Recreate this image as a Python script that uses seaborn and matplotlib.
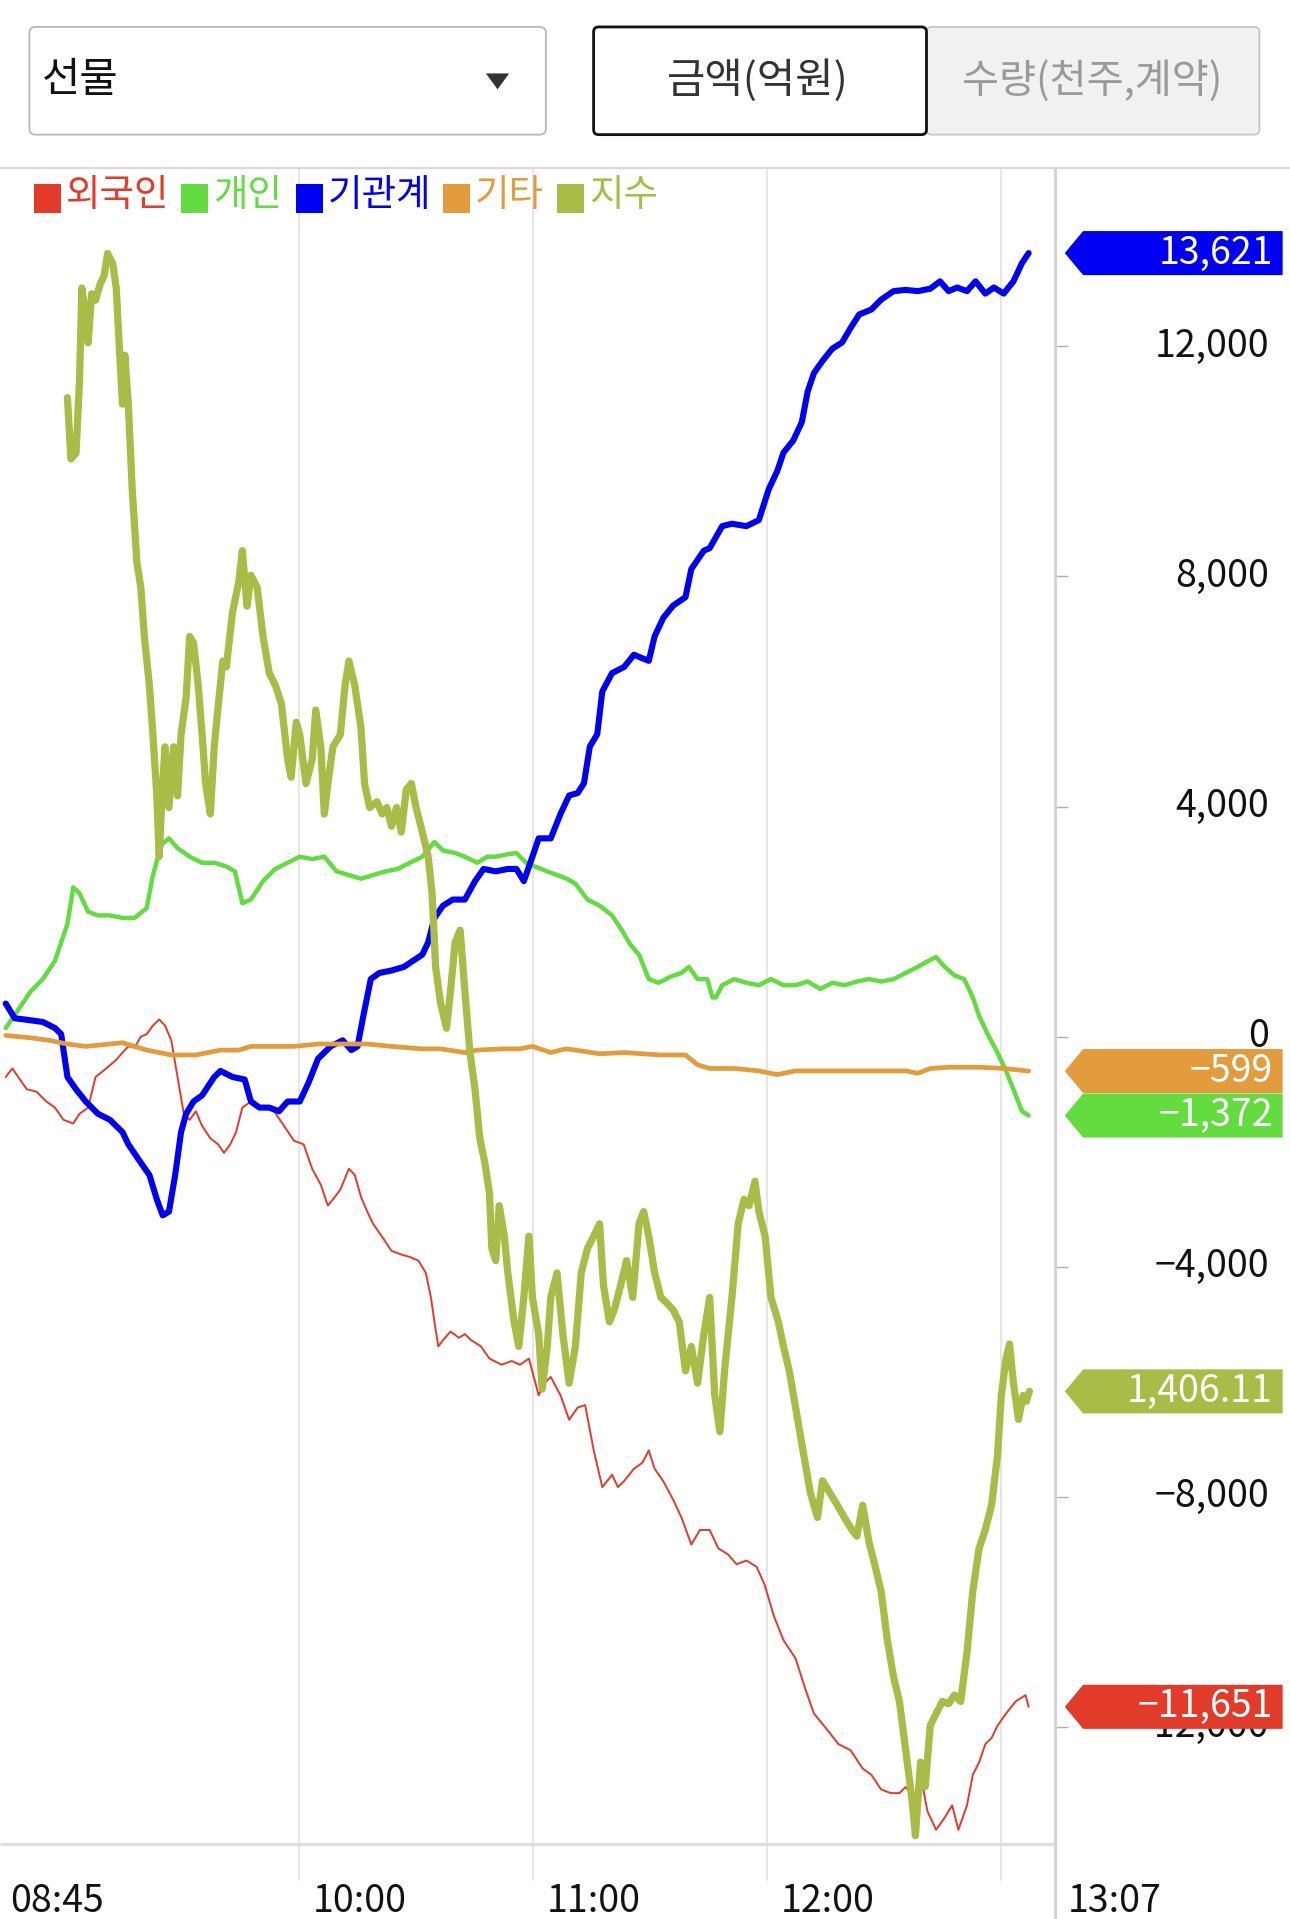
import matplotlib
matplotlib.use("Agg")
import matplotlib.pyplot as plt
import matplotlib.transforms as mtransforms
from matplotlib.patches import Polygon, Rectangle, FancyBboxPatch
import numpy as np
import pandas as pd
import seaborn as sns

# ---------------- data (minutes after 08:45, value) ----------------
foreign_t = [0, 1.7, 3.2, 5.4, 7.9, 10.4, 12.6, 14.8, 17.3, 18.9, 21.1, 23.0, 24.2, 26.1, 28.3, 29.9,
             31.4, 33.0, 34.6, 36.1, 37.7, 39.3, 40.8, 42.4, 44.0, 45.6, 47.1, 48.7, 50.3, 52.4, 54.4,
             55.9, 57.5, 59.0, 60.6, 62.8, 65.9, 68.1, 71.3, 73.8, 76.3, 78.5, 80.7, 82.5, 83.8, 85.7,
             87.9, 89.4, 91.0, 92.6, 94.1, 96.3, 98.8, 101.3, 103.5, 105.7, 107.6, 108.9, 109.8, 110.8,
             112.0, 113.9, 116.1, 117.6, 119.2, 121.7, 123.9, 127.0, 129.6, 131.7, 134.0, 136.5, 138.0,
             139.6, 142.1, 144.3, 146.5, 148.4, 150.6, 152.8, 155.3, 156.8, 158.4, 160.9, 163.1, 164.7,
             166.2, 168.4, 170.9, 173.1, 175.6, 177.8, 180.3, 182.5, 185.0, 187.2, 189.7, 192.3, 194.4,
             196.7, 199.2, 202.3, 204.8, 207.0, 210.1, 213.3, 216.4, 219.5, 221.7, 224.2, 226.7, 228.9,
             230.5, 233.0, 234.3, 236.1, 238.3, 240.5, 242.4, 244.0, 246.2, 247.7, 249.3, 250.9, 252.5,
             254.0, 256.2, 258.7, 261.2, 262.0]
foreign_v = [-702, -553, -702, -915, -958, -1128, -1234, -1447, -1511, -1341, -1234, -702, -638, -532,
             -404, -277, -170, -192, 0, 43, 192, 298, 192, -64, -702, -1341, -1447, -1298, -1553, -1766,
             -1873, -2022, -1873, -1660, -1234, -1128, -1234, -1234, -1553, -1809, -1873, -2298, -2575,
             -2937, -2830, -2660, -2298, -2405, -2788, -3043, -3256, -3469, -3724, -3788, -3830, -3894,
             -4107, -4533, -4958, -5384, -5277, -5128, -5235, -5171, -5277, -5384, -5597, -5703, -5639,
             -5703, -5597, -6235, -6022, -5916, -6235, -6661, -6448, -6405, -7193, -7831, -7618, -7831,
             -7725, -7512, -7405, -7193, -7512, -7725, -8044, -8363, -8831, -8576, -8576, -8895, -9001,
             -9172, -9108, -9214, -9533, -10065, -10491, -10810, -11342, -11768, -12023, -12300, -12406,
             -12725, -12831, -13087, -13151, -13151, -13044, -13257, -12831, -13470, -13789, -13576,
             -13364, -13789, -13364, -12831, -12619, -12300, -12193, -11980, -11768, -11555, -11448,
             -11651]

retail_t = [0, 3.2, 6.4, 9.5, 12.6, 15.8, 17.3, 18.9, 21.1, 23.6, 26.7, 29.9, 33.0, 36.1, 37.7, 39.9,
            41.8, 44.0, 47.1, 50.3, 53.4, 56.5, 58.7, 60.6, 62.8, 65.9, 69.0, 72.2, 75.3, 78.5, 81.6,
            84.7, 87.9, 91.0, 94.1, 97.3, 100.4, 103.5, 106.7, 109.8, 112.0, 115.1, 117.6, 120.8, 123.3,
            125.5, 128.6, 130.8, 133.3, 135.5, 138.7, 141.2, 143.7, 145.9, 149.0, 152.1, 155.3, 157.8,
            160.0, 162.2, 164.7, 167.2, 170.3, 173.1, 175.0, 177.2, 179.7, 181.0, 181.9, 183.5, 186.6,
            189.7, 192.9, 196.0, 199.2, 202.3, 205.4, 208.6, 211.7, 214.8, 218.0, 221.1, 224.2, 227.4,
            230.5, 233.6, 235.8, 238.3, 240.5, 243.0, 245.5, 247.7, 249.3, 251.5, 254.0, 256.2, 258.7,
            260.3, 262.0]
retail_v = [149, 468, 787, 1000, 1319, 1958, 2596, 2490, 2171, 2107, 2107, 2064, 2064, 2234, 2809, 3341,
            3447, 3277, 3128, 3022, 3022, 2958, 2873, 2320, 2383, 2703, 2915, 3022, 3128, 3086, 3128,
            2873, 2809, 2745, 2809, 2873, 2915, 3022, 3128, 3384, 3235, 3192, 3128, 3022, 3128, 3128,
            3171, 3192, 3022, 2958, 2873, 2809, 2745, 2660, 2383, 2277, 2107, 1851, 1596, 1426, 1000,
            936, 1043, 1107, 1213, 1000, 1000, 681, 681, 894, 1000, 936, 894, 1000, 894, 894, 958, 830,
            936, 894, 958, 1000, 958, 1000, 1107, 1213, 1298, 1383, 1213, 1064, 1000, 681, 362, 43,
            -277, -596, -1021, -1298, -1372]

inst_t = [0, 2.3, 4.8, 9.5, 12.6, 14.2, 15.8, 18.0, 20.5, 23.6, 26.7, 29.9, 31.4, 34.6, 36.8, 38.7,
          40.2, 41.8, 43.4, 44.9, 46.2, 48.1, 50.3, 53.4, 55.0, 58.1, 61.2, 62.8, 65.0, 67.5, 70.0,
          72.2, 75.3, 77.5, 80.0, 83.2, 86.3, 88.5, 90.1, 91.6, 93.5, 95.7, 98.8, 102.0, 106.7, 108.2,
          109.8, 112.0, 114.5, 117.6, 120.2, 122.4, 125.5, 128.6, 130.8, 132.7, 134.9, 136.5, 139.6,
          142.1, 144.3, 146.5, 148.1, 149.6, 151.5, 152.8, 155.3, 158.4, 160.9, 163.1, 164.7, 166.2,
          168.4, 170.9, 174.1, 175.6, 178.8, 180.3, 183.5, 186.0, 189.7, 192.9, 195.4, 197.6, 199.2,
          201.7, 203.9, 205.4, 207.0, 209.2, 211.7, 214.2, 216.4, 218.6, 221.7, 224.2, 227.4, 230.5,
          233.6, 236.8, 239.3, 241.5, 243.7, 246.2, 248.4, 250.9, 253.1, 255.6, 258.1, 260.3, 262.0]
inst_v = [575, 319, 298, 255, 149, 43, -702, -915, -1128, -1340, -1447, -1660, -1872, -2192, -2405,
          -2830, -3107, -3043, -2405, -1660, -1341, -1128, -1021, -702, -596, -702, -745, -1128, -1234,
          -1234, -1298, -1128, -1128, -809, -383, -170, -64, -234, -170, 362, 1000, 1107, 1149, 1213,
          1426, 1639, 2064, 2277, 2383, 2383, 2703, 2915, 2873, 2915, 2915, 2703, 3128, 3447, 3447, 3873,
          4192, 4235, 4405, 5043, 5256, 6001, 6320, 6427, 6639, 6576, 6533, 6959, 7278, 7491, 7640, 8129,
          8448, 8491, 8874, 8916, 8874, 8980, 9512, 9831, 10151, 10363, 10683, 11215, 11534, 11747,
          11959, 12066, 12321, 12555, 12640, 12811, 12960, 12981, 12960, 13002, 13130, 12960, 13023,
          12960, 13130, 12917, 13023, 12917, 13130, 13449, 13621]

other_t = [0, 6.4, 11.1, 15.8, 20.5, 26.7, 29.9, 33.0, 36.1, 39.3, 42.4, 48.7, 51.8, 55.0, 59.7, 62.8,
           73.8, 80.0, 92.6, 98.8, 106.7, 111.4, 117.6, 120.8, 127.1, 131.7, 134.9, 139.6, 143.4, 145.9,
           152.1, 158.4, 167.8, 174.1, 177.2, 180.3, 186.6, 192.9, 197.6, 202.3, 218.0, 230.5, 233.6,
           236.8, 241.5, 249.3, 255.6, 262.0]
other_v = [21, -21, -64, -128, -170, -128, -106, -170, -234, -277, -319, -319, -277, -234, -234, -170,
           -170, -128, -128, -170, -213, -213, -277, -234, -213, -213, -170, -277, -213, -234, -298, -277,
           -319, -319, -489, -553, -553, -596, -660, -596, -596, -596, -638, -553, -532, -532, -553, -599]

index_t = [15.8, 16.7, 18.0, 18.9, 19.5, 20.5, 21.1, 22.0, 23.0, 24.2, 25.2, 26.1, 27.4, 28.3, 29.2, 29.9,
           30.5, 31.4, 32.4, 33.6, 34.6, 35.5, 36.8, 37.7, 38.7, 39.3, 40.2, 40.8, 41.8, 43.0, 44.0, 44.9,
           46.2, 47.1, 48.1, 49.3, 50.3, 51.2, 52.4, 53.4, 54.3, 55.6, 56.5, 58.1, 59.7, 60.6, 61.8, 62.8,
           64.4, 65.9, 67.5, 69.1, 70.6, 72.2, 73.1, 74.4, 75.3, 76.9, 78.5, 79.4, 80.7, 81.6, 82.5, 83.8,
           85.7, 86.9, 87.9, 89.4, 91.0, 91.9, 93.2, 95.1, 96.4, 97.6, 98.8, 100.1, 101.3, 102.6, 103.9,
           105.1, 106.7, 108.2, 109.2, 110.1, 111.4, 112.9, 113.9, 115.1, 116.4, 117.6, 118.9, 120.2,
           121.4, 122.7, 123.9, 124.5, 125.5, 126.4, 127.7, 128.6, 130.2, 131.4, 132.7, 134.0, 134.9,
           136.5, 137.4, 138.7, 139.6, 141.2, 142.7, 144.3, 145.9, 147.4, 149.0, 150.6, 152.1, 153.1,
           154.6, 155.9, 157.5, 159.0, 160.6, 162.2, 163.4, 164.7, 166.2, 167.8, 169.4, 170.9, 172.5,
           174.1, 175.6, 177.2, 178.8, 180.3, 181.6, 182.9, 184.1, 186.0, 187.6, 189.1, 190.4, 191.9,
           192.9, 194.5, 196.0, 197.9, 199.2, 200.7, 202.3, 203.9, 206.1, 207.9, 209.2, 211.1, 213.0,
           214.8, 216.7, 218.0, 219.5, 221.1, 222.7, 224.2, 225.8, 227.4, 228.9, 230.5, 232.1, 233.0,
           234.3, 235.5, 236.8, 238.3, 239.9, 241.5, 243.0, 244.6, 246.2, 247.7, 249.3, 250.9, 252.5,
           254.0, 255.0, 256.2, 257.1, 258.1, 259.4, 260.6, 261.4, 262.2]
index_v = [1423.13, 1422.08, 1422.18, 1423.44, 1425.01, 1424.53, 1424.07, 1424.91, 1424.80, 1425.08,
           1425.22, 1425.60, 1425.43, 1425.01, 1423.86, 1423.02, 1423.86, 1423.02, 1421.55, 1420.30,
           1419.88, 1419.04, 1418.20, 1417.36, 1416.31, 1415.27, 1416.52, 1417.15, 1416.11, 1417.15,
           1416.31, 1417.36, 1417.99, 1419.04, 1418.93, 1418.20, 1417.36, 1416.52, 1416.00, 1417.15,
           1417.78, 1418.62, 1418.52, 1419.46, 1419.98, 1420.51, 1419.56, 1420.09, 1419.88, 1419.04,
           1418.41, 1418.20, 1417.89, 1416.94, 1416.63, 1417.57, 1417.36, 1416.52, 1416.94, 1417.78,
           1417.15, 1416.00, 1416.52, 1417.15, 1417.36, 1418.20, 1418.62, 1418.20, 1417.47, 1416.52,
           1416.11, 1416.21, 1416.00, 1416.11, 1415.79, 1416.11, 1415.69, 1416.42, 1416.52, 1416.11,
           1415.69, 1415.27, 1414.64, 1413.38, 1412.75, 1412.33, 1412.96, 1413.80, 1414.01, 1412.96,
           1411.91, 1411.28, 1410.45, 1410.03, 1409.50, 1408.56, 1408.35, 1409.29, 1408.77, 1408.14,
           1407.30, 1406.88, 1407.72, 1408.77, 1407.72, 1407.09, 1406.15, 1406.88, 1407.72, 1408.14,
           1407.09, 1406.25, 1406.88, 1408.14, 1408.56, 1408.77, 1408.98, 1407.93, 1407.30, 1407.51,
           1407.93, 1408.35, 1407.72, 1408.98, 1409.19, 1408.77, 1408.14, 1407.72, 1407.62, 1407.51,
           1407.30, 1406.46, 1406.88, 1406.25, 1407.09, 1407.72, 1406.04, 1405.42, 1406.46, 1407.72,
           1408.98, 1409.40, 1409.29, 1409.71, 1409.19, 1408.77, 1407.72, 1407.30, 1406.88, 1406.46,
           1405.83, 1405.21, 1404.37, 1403.95, 1404.58, 1404.37, 1404.16, 1403.95, 1403.74, 1403.63,
           1404.16, 1403.53, 1403.11, 1402.69, 1401.85, 1401.22, 1400.80, 1399.97, 1399.13, 1398.50,
           1399.76, 1399.34, 1400.39, 1400.59, 1400.80, 1400.76, 1400.91, 1400.80, 1401.64, 1402.69,
           1403.42, 1403.74, 1404.16, 1405.00, 1406.04, 1406.67, 1406.92, 1406.25, 1405.63, 1406.04,
           1405.94, 1406.11]

series_names = ["외국인", "개인", "기관계", "기타", "지수"]
series_colors = ["#e23b2a", "#62dc3e", "#0000f5", "#e29c3b", "#a8bc46"]

y_ticks = [-12000, -8000, -4000, 0, 4000, 8000, 12000]
grid_times = [75, 135, 195, 255]
x_tick_times = [0, 75, 135, 195]
x_tick_labels = ["08:45", "10:00", "11:00", "12:00"]
header_select = "선물"
header_btn_on = "금액(억원)"
header_btn_off = "수량(천주,계약)"

# ---------------- figure ----------------
sns.set_theme(style="white")
plt.rcParams['font.family'] = ['Noto Sans CJK KR', 'DejaVu Sans']
plt.rcParams['axes.unicode_minus'] = True

W, H = 1290, 1919
S = W / 1054.0
fig = plt.figure(figsize=(W / 100, H / 100), dpi=100)
fig.patch.set_facecolor("white")

ax_r, ax_t, ax_b = 862 * S, 137 * S, 1507 * S
ax = fig.add_axes([0, 1 - ax_b / H, ax_r / W, (ax_b - ax_t) / H])
ax.set_facecolor("white")

frames = [
    pd.DataFrame({"t": foreign_t, "v": foreign_v}),
    pd.DataFrame({"t": retail_t, "v": retail_v}),
    pd.DataFrame({"t": inst_t, "v": inst_v}),
    pd.DataFrame({"t": other_t, "v": other_v}),
]
widths = [1.4, 3.2, 4.4, 3.4]
for df, c, lw in zip(frames, series_colors[:4], widths):
    sns.lineplot(data=df, x="t", y="v", ax=ax, color=c, linewidth=lw,
                 estimator=None, sort=False, legend=False)

ax2 = ax.twinx()
idx_df = pd.DataFrame({"t": index_t, "v": index_v})
sns.lineplot(data=idx_df, x="t", y="v", ax=ax2, color=series_colors[4], linewidth=5.2,
             estimator=None, sort=False, legend=False)

ax.set_xlim(-1.47, 268.75)
ax.set_ylim(-14043, 15106)
ax2.set_ylim(1398.35, 1427.07)
for a in (ax, ax2):
    a.set_xlabel("")
    a.set_ylabel("")
    for s in a.spines.values():
        s.set_visible(False)
    a.set_xticks([])
ax2.set_yticks([])
ax.grid(False)

# grid lines with little extensions under the baseline
for gt in grid_times:
    ax.axvline(gt, ymin=-0.021, ymax=1, color="#e4e4e4", lw=1.3, clip_on=False, zorder=0)

# y ticks on the right
ax.set_yticks(y_ticks)
ax.yaxis.set_ticks_position("right")
ax.tick_params(axis="y", right=True, left=False, length=9, width=1.0, color="#b0b0b0",
               labelright=False, labelleft=False)
ytr = ax.get_yaxis_transform()
for v in y_ticks:
    lab = f"{v:,}".replace("-", "\u2212")
    ax.text(1.2030, v, lab, transform=ytr, ha="right", va="center",
            fontsize=27, color="#111111", zorder=1, clip_on=False)

# x labels
xtr = ax.get_xaxis_transform()
for i, (tt, lab) in enumerate(zip(x_tick_times, x_tick_labels)):
    dx = 4 if i == 0 else 14
    tr = mtransforms.offset_copy(xtr, fig=fig, x=dx, y=0, units="dots")
    ax.text(tt, -0.0338, lab, transform=tr, ha="left", va="center", fontsize=27,
            color="#111111", clip_on=False)
end_min = int(round(foreign_t[-1]))
tot = 8 * 60 + 45 + end_min
end_lab = f"{tot // 60:02d}:{tot % 60:02d}"
tr_end = mtransforms.offset_copy(ax.transAxes, fig=fig, x=13, y=0, units="dots")
ax.text(1.0, -0.0338, end_lab, transform=tr_end, ha="left", va="center", fontsize=27,
        color="#111111", clip_on=False)

# ---------------- overlay (header, frame lines, tags, legend) ----------------
ov = fig.add_axes([0, 0, 1, 1], zorder=10)
ov.set_xlim(0, W)
ov.set_ylim(H, 0)
ov.axis("off")
ov.patch.set_alpha(0)

# header
ov.add_patch(FancyBboxPatch((24 * S, 22 * S), 422 * S, 88 * S,
                            boxstyle="round,pad=0,rounding_size=6", fc="white", ec="#b8b8b8", lw=1.3))
ov.text(34 * S, 66 * S, header_select, ha="left", va="center", fontsize=30, color="#111111")
ov.add_patch(Polygon([(397 * S, 60 * S), (416 * S, 60 * S), (406.5 * S, 73 * S)], closed=True,
                     fc="#333333", ec="none"))
ov.add_patch(FancyBboxPatch((757 * S, 22 * S), 272 * S, 88 * S,
                            boxstyle="round,pad=0,rounding_size=5", fc="#f1f1f1", ec="#c6c6c6", lw=1.3))
ov.add_patch(FancyBboxPatch((485 * S, 22 * S), 272 * S, 88 * S,
                            boxstyle="round,pad=0,rounding_size=5", fc="white", ec="#111111", lw=2.0))
ov.text(619 * S, 66 * S, header_btn_on, ha="center", va="center", fontsize=30, color="#333333")
ov.text(892 * S, 66 * S, header_btn_off, ha="center", va="center", fontsize=29, color="#9a9a9a")

# separator and frame lines
ov.plot([0, W], [137 * S, 137 * S], color="#d9d9d9", lw=1.6)
ov.plot([0, ax_r], [ax_b, ax_b], color="#dedede", lw=2.4, solid_capstyle="butt")
ov.plot([ax_r, ax_r], [ax_t, H], color="#d4d4d4", lw=2.2, solid_capstyle="butt")

# legend
sq_x = [28, 148, 242, 362, 455]
for xs, name, col in zip(sq_x, series_names, series_colors):
    ov.add_patch(Rectangle((xs * S, 150 * S), 22 * S, 24 * S, fc=col, ec="none"))
    ov.text((xs + 26) * S, 160 * S, name, ha="left", va="center", fontsize=27, color=col)

# value tags at the right
inv = ov.transData.inverted()
last_items = [
    (ax, inst_v[-1], series_colors[2], f"{inst_v[-1]:,}"),
    (ax, other_v[-1], series_colors[3], f"{other_v[-1]:,}"),
    (ax, retail_v[-1], series_colors[1], f"{retail_v[-1]:,}"),
    (ax2, index_v[-1], series_colors[4], f"{index_v[-1]:,.2f}"),
    (ax, foreign_v[-1], series_colors[0], f"{foreign_v[-1]:,}"),
]
for a, v, col, lab in last_items:
    _, yp = inv.transform(a.transData.transform((0, v)))
    hh = 18 * S
    tip, x0, x1 = 870 * S, 885 * S, 1048 * S
    ov.add_patch(Polygon([(tip, yp), (x0, yp - hh), (x1, yp - hh), (x1, yp + hh), (x0, yp + hh)],
                         closed=True, fc=col, ec="none", zorder=5))
    ov.text(1040 * S, yp, lab.replace("-", "\u2212"), ha="right", va="center", fontsize=27,
            color="white", zorder=6)

fig.savefig("out.png", dpi=100, facecolor="white")
